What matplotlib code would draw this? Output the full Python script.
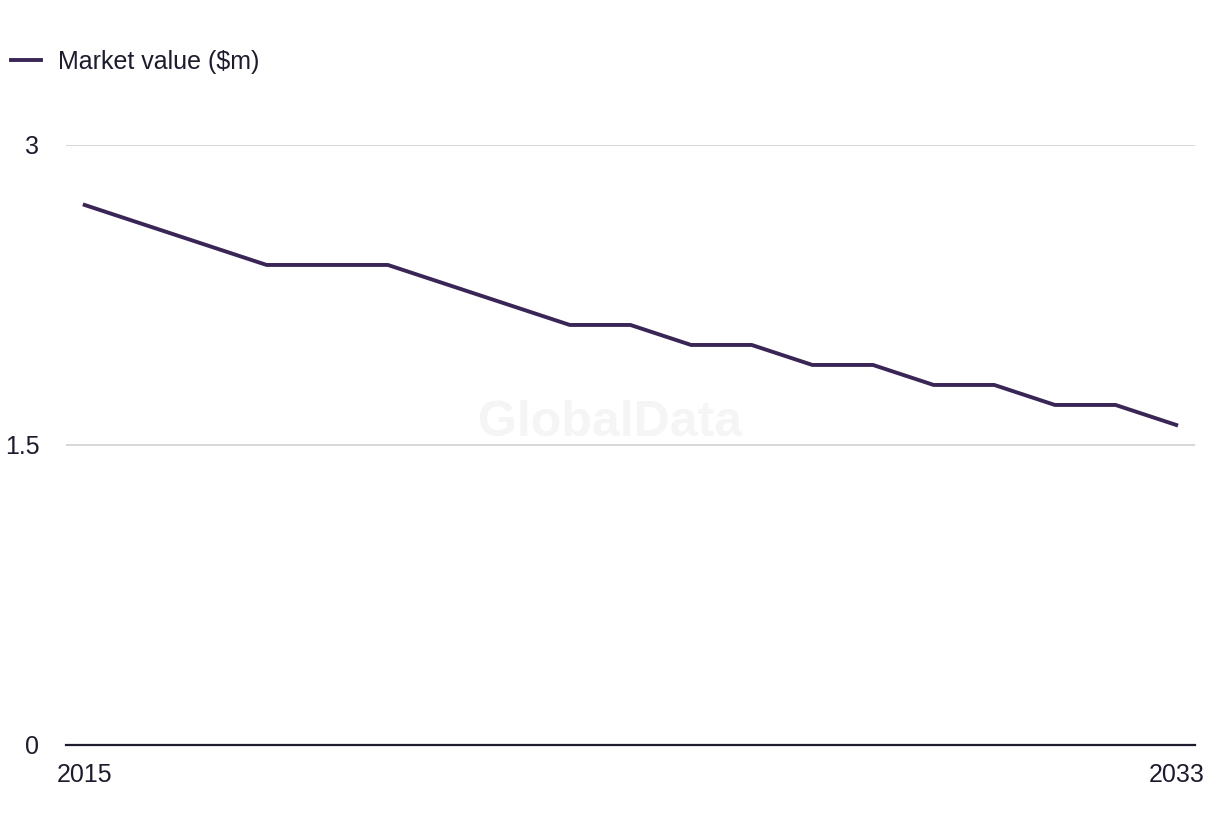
import matplotlib
matplotlib.use("Agg")
import matplotlib.pyplot as plt

years = list(range(2015, 2034))
market_value = [2.7, 2.6, 2.5, 2.4, 2.4, 2.4, 2.3, 2.2, 2.1, 2.1,
                2.0, 2.0, 1.9, 1.9, 1.8, 1.8, 1.7, 1.7, 1.6]
y_ticks = [0, 1.5, 3]
y_tick_labels = ["0", "1.5", "3"]
x_ticks = [2015, 2033]

plt.rcParams["font.family"] = ["Liberation Sans", "DejaVu Sans"]
text_color = "#1c1c2e"
line_color = "#3a2656"

fig = plt.figure(figsize=(12.2, 8.36), dpi=100)
ax = fig.add_axes([0.054, 0.1089, 0.9255, 0.7177])

ax.plot(years, market_value, color=line_color, linewidth=2.8,
        label="Market value ($m)")

ax.set_xlim(2014.69, 2033.31)
ax.set_ylim(0, 3)
ax.set_yticks(y_ticks)
ax.set_yticklabels(y_tick_labels)
ax.set_xticks(x_ticks)
ax.set_xticklabels([str(x) for x in x_ticks])

ax.grid(axis="y", color="#d4d4d4", linewidth=1.3)
ax.set_axisbelow(True)
for s in ["top", "right", "left"]:
    ax.spines[s].set_visible(False)
ax.spines["bottom"].set_color(text_color)
ax.spines["bottom"].set_linewidth(1.6)
ax.spines["bottom"].set_zorder(3)

ax.tick_params(axis="y", length=0, pad=19, labelsize=18, labelcolor=text_color)
ax.tick_params(axis="x", length=0, pad=13, labelsize=18, labelcolor=text_color)

ax.text(0.482, 0.537, "GlobalData", transform=ax.transAxes, ha="center", va="center",
        fontsize=36, fontweight="bold", color="#f5f5f5", zorder=0)

fig.legend(loc="center left", bbox_to_anchor=(0.009, 0.926), frameon=False,
           fontsize=18, handlelength=1.2, handletextpad=0.7,
           borderpad=0, borderaxespad=0, labelcolor=text_color)

fig.savefig("out.png", dpi=100, facecolor="white")
